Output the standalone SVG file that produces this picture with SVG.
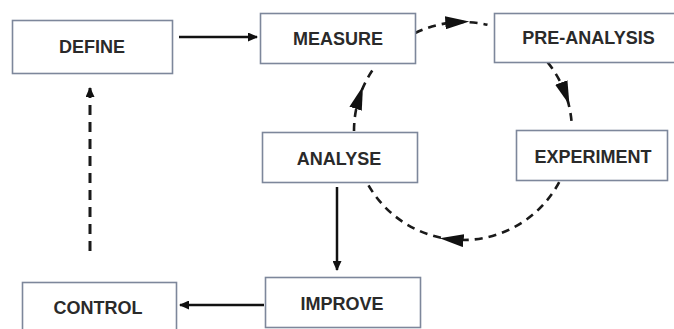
<svg xmlns="http://www.w3.org/2000/svg" width="674" height="329" viewBox="0 0 674 329">
<style>
.box{fill:#ffffff;stroke:#7d879b;stroke-width:1.6}
.lbl{font-family:"Liberation Sans",Arial,sans-serif;font-weight:bold;font-size:18px;fill:#2a2a2a;text-anchor:middle}
.solid{fill:none;stroke:#111;stroke-width:2.5}
.dash{fill:none;stroke:#1a1a1a;stroke-width:2.6;stroke-dasharray:8 6}
.vdash{fill:none;stroke:#1a1a1a;stroke-width:3;stroke-dasharray:10 7}
</style>
<defs>
<marker id="ah" markerUnits="userSpaceOnUse" markerWidth="10" markerHeight="9" viewBox="0 0 10 9" refX="9" refY="4.5" orient="auto">
<path d="M0,0 L10,4.5 L0,9 Z" fill="#111"/>
</marker>
<marker id="big" markerUnits="userSpaceOnUse" markerWidth="24" markerHeight="13" viewBox="0 0 24 13" refX="12" refY="6.5" orient="auto">
<path d="M0,0 L24,6.5 L0,13 Z" fill="#111"/>
</marker>
</defs>
<rect width="674" height="329" fill="#ffffff"/>
<g id="connectors">
<path class="solid" d="M179,37 H257" marker-end="url(#ah)"/>
<path class="solid" d="M337,187 V270" marker-end="url(#ah)"/>
<path class="solid" d="M264,305 H180" marker-end="url(#ah)"/>
<path class="vdash" d="M90,251 V88" marker-end="url(#ah)"/>
<path class="dash" d="M415.2,33 A109,109 0 0 1 457.3,22.2 A109,109 0 0 1 487.5,24.8" marker-mid="url(#big)"/>
<path class="dash" d="M547.7,62.4 A109,109 0 0 1 565.4,93.7 A109,109 0 0 1 571.8,125.3" marker-mid="url(#big)"/>
<path class="dash" d="M559.2,182.2 A109,109 0 0 1 451.6,239.4 A109,109 0 0 1 366.8,182.2" marker-mid="url(#big)"/>
<path class="dash" d="M354,131 A109,109 0 0 1 359.3,97.3 A109,109 0 0 1 374.8,66.9" marker-mid="url(#big)"/>
</g>
<g id="define"><rect class="box" x="12.5" y="20.5" width="160" height="53"/><text class="lbl" x="92" y="52.5">DEFINE</text></g>
<g id="measure"><rect class="box" x="260.5" y="13.5" width="155" height="50"/><text class="lbl" x="338" y="45">MEASURE</text></g>
<g id="pre-analysis"><rect class="box" x="494.5" y="13.5" width="185" height="49"/><text class="lbl" x="588.5" y="43.5">PRE-ANALYSIS</text></g>
<g id="analyse"><rect class="box" x="262.5" y="132.5" width="155" height="50"/><text class="lbl" x="339" y="164.5">ANALYSE</text></g>
<g id="experiment"><rect class="box" x="516.5" y="130.5" width="151" height="50"/><text class="lbl" x="593" y="163">EXPERIMENT</text></g>
<g id="improve"><rect class="box" x="265.5" y="277.5" width="155" height="50"/><text class="lbl" x="342" y="310">IMPROVE</text></g>
<g id="control"><rect class="box" x="22.5" y="282.5" width="154" height="52"/><text class="lbl" x="98" y="314">CONTROL</text></g>
</svg>
